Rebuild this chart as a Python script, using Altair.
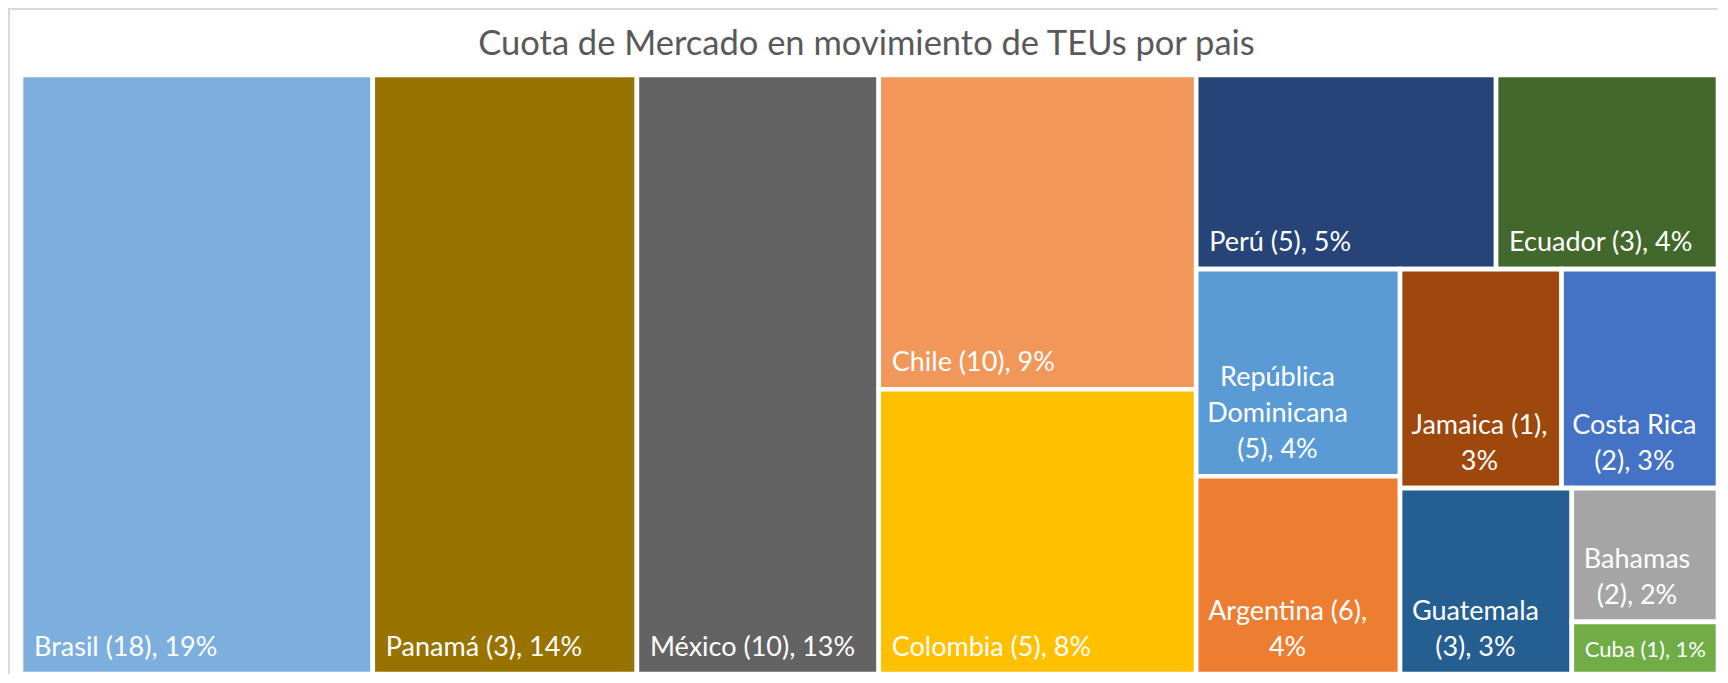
import altair as alt
import pandas as pd

# ---- data ----
paises = ["Brasil", "Panamá", "México", "Chile", "Colombia", "Perú", "Ecuador",
          "República Dominicana", "Argentina", "Jamaica", "Costa Rica",
          "Guatemala", "Bahamas", "Cuba"]
puertos = [18, 3, 10, 10, 5, 5, 3, 5, 6, 1, 2, 3, 2, 1]
cuota = [19.07, 14.32, 13.11, 9.03, 8.18, 5.27, 3.90, 3.82, 3.65, 3.20, 3.10, 2.89, 1.77, 0.69]
colores = ["#7CAFDD", "#997300", "#636363", "#F1975A", "#FFC000", "#264478", "#43682B",
           "#5B9BD5", "#ED7D31", "#9E480E", "#4472C4", "#255E91", "#A5A5A5", "#70AD47"]
# label wrapping: 0 one line; 1 name / (n), p%; 2 name (n), / p%; 3 each word / (n), p%
corte = [0, 0, 0, 0, 0, 0, 0, 3, 2, 2, 1, 1, 1, 0]
fuente = [27, 27, 27, 27, 27, 27, 27, 27, 27, 27, 27, 27, 27, 22]
titulo = "Cuota de Mercado en movimiento de TEUs por pais"

# treemap structure: ("h", ...) side by side, ("v", ...) stacked
estructura = ("h", [0, 1, 2, ("v", [3, 4]),
                    ("v", [("h", [5, 6]),
                           ("h", [("v", [7, 8]),
                                  ("v", [("h", [9, 10]),
                                         ("h", [11, ("v", [12, 13])])])])])])

W, H = 1697, 599
PAD = 13
LH = 36
FONT = "Lato"


def total(node):
    if isinstance(node, int):
        return cuota[node]
    return sum(total(c) for c in node[1])


rects = {}


def place(node, x0, y0, x1, y1):
    if isinstance(node, int):
        rects[node] = (x0, y0, x1, y1)
        return
    kind, kids = node
    t = total(node)
    pos = x0 if kind == "h" else y0
    for k in kids:
        f = total(k) / t
        if kind == "h":
            w = (x1 - x0) * f
            place(k, pos, y0, pos + w, y1)
            pos += w
        else:
            h = (y1 - y0) * f
            place(k, x0, pos, x1, pos + h)
            pos += h


place(estructura, 0.0, 0.0, 1.0, 1.0)

# approximate glyph advance widths (em) for centring wrapped label blocks
anchos = {" ": 0.19, "(": 0.30, ")": 0.30, ",": 0.21, "%": 0.78, "i": 0.23, "l": 0.23,
          "j": 0.23, "r": 0.36, "t": 0.34, "f": 0.32, "s": 0.42, "m": 0.81, "a": 0.49,
          "c": 0.45, "e": 0.51, "é": 0.51, "á": 0.49, "ú": 0.55, "J": 0.38, "B": 0.63,
          "C": 0.66, "D": 0.74, "G": 0.72, "A": 0.68, "R": 0.62, "P": 0.60, "E": 0.56,
          "M": 0.86}


def ancho(s, fs):
    tot = 0.0
    for ch in s:
        if ch in anchos:
            tot += anchos[ch]
        elif ch.isdigit():
            tot += 0.58
        elif ch.isupper():
            tot += 0.65
        else:
            tot += 0.54
    return tot * fs


def lineas(i):
    nom, n, p = paises[i], puertos[i], round(cuota[i])
    if corte[i] == 0:
        return [f"{nom} ({n}), {p}%"]
    if corte[i] == 1:
        return [nom, f"({n}), {p}%"]
    if corte[i] == 2:
        return [f"{nom} ({n}),", f"{p}%"]
    return nom.split(" ") + [f"({n}), {p}%"]


celdas = pd.DataFrame({
    "pais": paises,
    "x0": [rects[i][0] for i in range(len(paises))],
    "y0": [rects[i][1] for i in range(len(paises))],
    "x1": [rects[i][2] for i in range(len(paises))],
    "y1": [rects[i][3] for i in range(len(paises))],
})

filas = []
for i in range(len(paises)):
    ls = lineas(i)
    x0, y0, x1, y1 = rects[i]
    if len(ls) == 1:
        tx = x0 + PAD / W
    else:
        bw = max(ancho(s, fuente[i]) for s in ls)
        tx = x0 + (PAD + bw / 2) / W
    ty = y1 - (len(ls) - 1) * LH / H
    filas.append({"pais": paises[i], "texto": "\n".join(ls), "tx": tx, "ty": ty,
                  "fs": fuente[i], "multi": int(len(ls) > 1)})
etiquetas = pd.DataFrame(filas)

xs = alt.Scale(domain=[0, 1], nice=False, zero=False)
ys = alt.Scale(domain=[0, 1], nice=False, zero=False, reverse=True)

base_rect = alt.Chart(celdas).mark_rect(stroke="white", strokeWidth=4.6).encode(
    x=alt.X("x0:Q", scale=xs, axis=None),
    x2="x1:Q",
    y=alt.Y("y0:Q", scale=ys, axis=None),
    y2="y1:Q",
    color=alt.Color("pais:N", scale=alt.Scale(domain=paises, range=colores), legend=None),
)


def capa_texto(multi, align):
    return alt.Chart(etiquetas).transform_filter(f"datum.multi == {multi}").mark_text(
        align=align, baseline="bottom", dy=-12, color="white", font=FONT,
        lineBreak="\n", lineHeight=LH,
    ).encode(
        x=alt.X("tx:Q", scale=xs, axis=None),
        y=alt.Y("ty:Q", scale=ys, axis=None),
        text="texto:N",
        size=alt.Size("fs:Q", scale=None, legend=None),
    )


marco = pd.DataFrame({"titulo": [titulo]})
linea_sup = alt.Chart(marco).mark_rule(color="#D9D9D9", strokeWidth=2).encode(
    x=alt.value(-13), x2=alt.value(W), y=alt.value(-66))
linea_izq = alt.Chart(marco).mark_rule(color="#D9D9D9", strokeWidth=2).encode(
    x=alt.value(-12), y=alt.value(-66), y2=alt.value(H))
cabecera = alt.Chart(marco).mark_text(
    font=FONT, fontSize=34.5, color="#595959", align="center", baseline="alphabetic"
).encode(x=alt.value(W / 2 - 3), y=alt.value(-20), text="titulo:N")

chart = alt.layer(
    linea_sup, linea_izq, cabecera, base_rect, capa_texto(0, "left"), capa_texto(1, "center")
).properties(
    width=W, height=H,
    padding={"left": 13, "top": 67, "right": 0, "bottom": 0},
    autosize=alt.AutoSizeParams(type="none"),
    background="white",
).configure_view(stroke=None)

chart.save("out.html", embed_options={"renderer": "svg", "actions": False})
